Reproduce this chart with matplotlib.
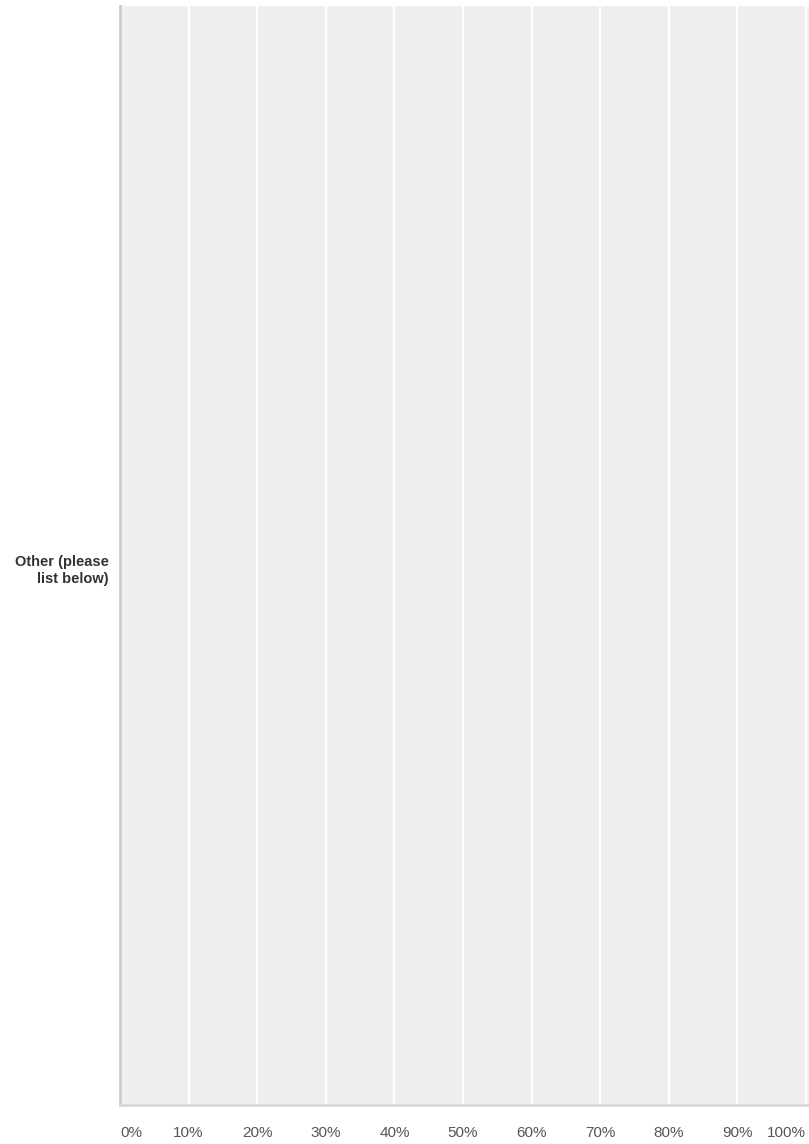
import matplotlib.pyplot as plt
import matplotlib.transforms as mtransforms

# data
categories = ["Other (please\nlist below)"]
values = [0]
ticks = [0, 10, 20, 30, 40, 50, 60, 70, 80, 90, 100]
tick_labels = ["0%", "10%", "20%", "30%", "40%", "50%", "60%", "70%", "80%", "90%", "100%"]

plt.rcParams['font.family'] = ['Liberation Sans', 'DejaVu Sans']

W, H = 809, 1144
fig = plt.figure(figsize=(W / 100, H / 100), dpi=100)
left, right, top, bottom = 120, 809, 6, 1105
ax = fig.add_axes([left / W, (H - bottom) / H, (right - left) / W, (bottom - top) / H])
ax.set_facecolor("#efefef")

ax.barh(range(len(categories)), values, color="#6fb1d6", height=0.6, zorder=3)
ax.set_xlim(0, 100 * (right - left) / 686)
ax.set_ylim(-0.5, 0.5)

# grid
for t in ticks[1:]:
    ax.axvline(t, color="white", lw=1.6, zorder=1)

for s in ["top", "right"]:
    ax.spines[s].set_visible(False)
ax.spines["left"].set_color("#cccccc")
ax.spines["left"].set_linewidth(2)
ax.spines["bottom"].set_color("#d9d9d9")
ax.spines["bottom"].set_linewidth(2)

ax.set_xticks(ticks)
ax.set_xticklabels(tick_labels, fontsize=11, color="#555555")
ax.tick_params(axis="x", length=0, pad=15)
labs = ax.get_xticklabels()
labs[0].set_ha("left")
labs[-1].set_ha("right")

ax.set_yticks(range(len(categories)))
ax.set_yticklabels(categories, fontsize=10.5, fontweight="bold", color="#333333",
                   ha="right", linespacing=1.25)
ax.tick_params(axis="y", length=0, pad=8)
shift = mtransforms.ScaledTranslation(0, -12 / 100, fig.dpi_scale_trans)
for lab in ax.get_yticklabels():
    lab.set_transform(lab.get_transform() + shift)
ax.invert_yaxis()

fig.savefig("out.png", dpi=100)
